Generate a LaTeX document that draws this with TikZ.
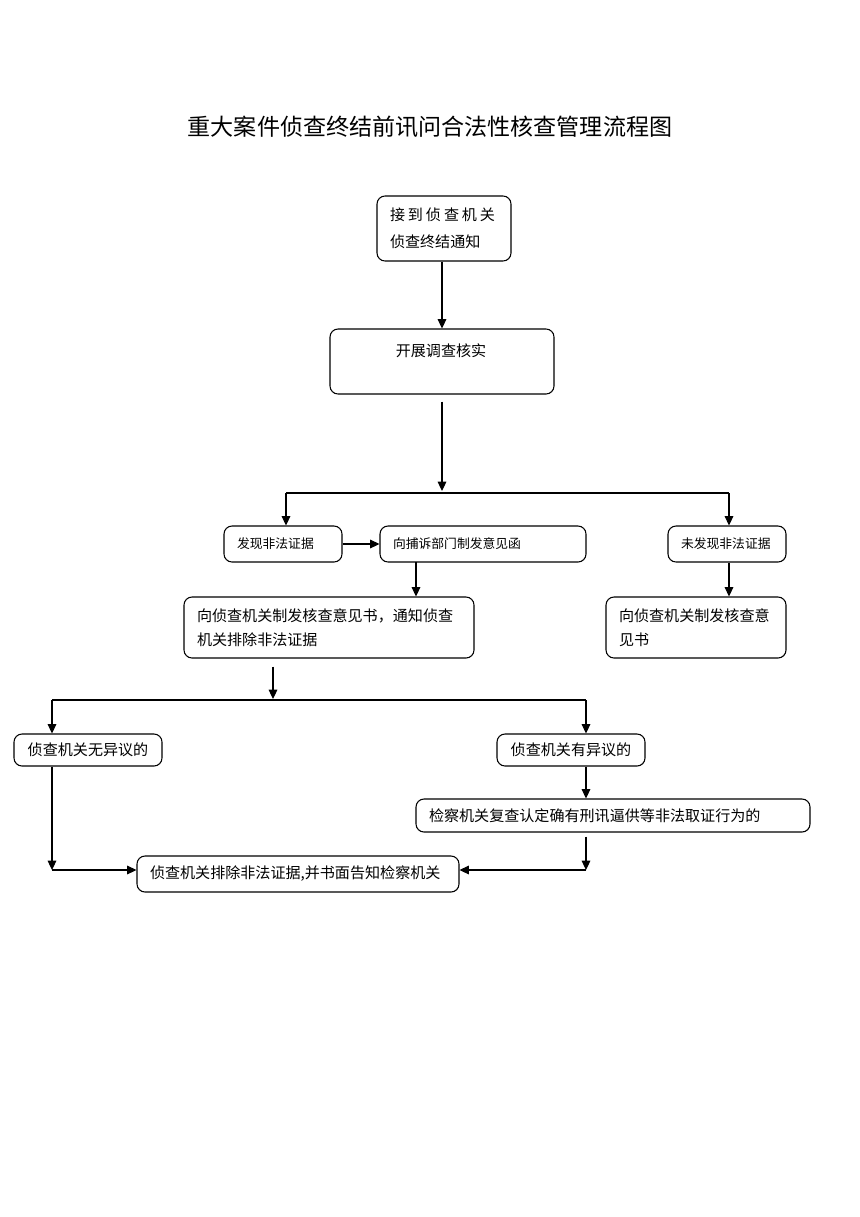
\documentclass[tikz,border=0pt]{standalone}
\usepackage{fontspec}
\setmainfont{Noto Sans CJK SC}
\usetikzlibrary{arrows.meta}
\newdimen\px \px=0.75pt

\tikzset{
	flowbox/.style={draw,line width=0.8pt,rounded corners=6pt,inner xsep=13\px,inner ysep=0pt,align=left,font=\fontsize{11.3}{18}\selectfont},
	smallbox/.style={flowbox,font=\fontsize{9.6}{14}\selectfont},
	wire/.style={line width=0.8pt},
	link/.style={wire,->,>={Triangle[length=7pt,width=6.5pt]}}
}

\begin{document}
\begin{tikzpicture}[x=0.75pt,y=-0.75pt]
	\useasboundingbox (0,0) rectangle (860,1217);
	\node[font=\fontsize{17.3}{20}\selectfont] (title) at (430,127) {重大案件侦查终结前讯问合法性核查管理流程图};

	% upper part
	\node[flowbox,text width=108\px,minimum height=65\px] (receive) at (444,228.5) {\spaceskip=2.2pt\relax 接 到 侦 查 机 关\\[2pt]侦查终结通知};
	\node[flowbox,text width=198\px,minimum height=65\px] (survey) at (442,361.5) {};
	\node[font=\fontsize{11.3}{18}\selectfont] (surveytext) at (441,351) {开展调查核实};

	\node[smallbox,text width=92\px,minimum height=36\px] (found) at (283,544) {发现非法证据};
	\node[smallbox,text width=180\px,minimum height=36\px] (letter) at (483,544) {向捕诉部门制发意见函};
	\node[smallbox,text width=92\px,minimum height=36\px] (notfound) at (727,544) {未发现非法证据};

	\node[flowbox,text width=264\px,minimum height=61\px] (notice) at (329,627.5) {向侦查机关制发核查意见书，通知侦查\\机关排除非法证据};
	\node[flowbox,text width=154\px,minimum height=61\px] (opinion) at (696,627.5) {向侦查机关制发核查意\\见书};

	% lower part
	\node[flowbox,align=center,text width=122\px,minimum height=32\px] (noobj) at (88,750) {侦查机关无异议的};
	\node[flowbox,align=center,text width=122\px,minimum height=32\px] (obj) at (571,750) {侦查机关有异议的};
	\node[flowbox,text width=368\px,minimum height=33\px] (review) at (613,815.5) {检察机关复查认定确有刑讯逼供等非法取证行为的};
	\node[flowbox,text width=296\px,minimum height=36\px] (final) at (298,874) {侦查机关排除非法证据,并书面告知检察机关};

	\coordinate (split) at (442,491);
	\coordinate (splitL) at (286,493);
	\coordinate (splitR) at (729,493);
	\coordinate (drop) at (416,562);
	\coordinate (split2) at (273,699);
	\coordinate (split2L) at (52,700);
	\coordinate (split2R) at (586,700);
	\coordinate (joinL) at (52,870);
	\coordinate (joinR) at (586,870);

	\draw[link] (receive.south -| survey.north) -- (survey.north);
	\draw[link] ([yshift=-7\px]survey.south) -- (split);
	\draw[wire] (splitL) -- (splitR);
	\draw[link] (splitL) -- (splitL |- found.north);
	\draw[link] (splitR) -- (splitR |- notfound.north);
	\draw[link] (found.east) -- (letter.west);
	\draw[link] (drop) -- (drop |- notice.north);
	\draw[link] (notfound.south -| splitR) -- (splitR |- opinion.north);

	\draw[link] ([xshift=-56\px,yshift=-8\px]notice.south) -- (split2);
	\draw[wire] (split2L) -- (split2R);
	\draw[link] (split2L) -- (split2L |- noobj.north);
	\draw[link] (split2R) -- (split2R |- obj.north);
	\draw[link] (split2R |- obj.south) -- (split2R |- review.north);
	\draw[link] ([yshift=-4\px]split2R |- review.south) -- (joinR);
	\draw[link] (joinR) -- (joinR -| final.east);
	\draw[link] (split2L |- noobj.south) -- (joinL);
	\draw[link] (joinL) -- (joinL -| final.west);
\end{tikzpicture}
\end{document}
